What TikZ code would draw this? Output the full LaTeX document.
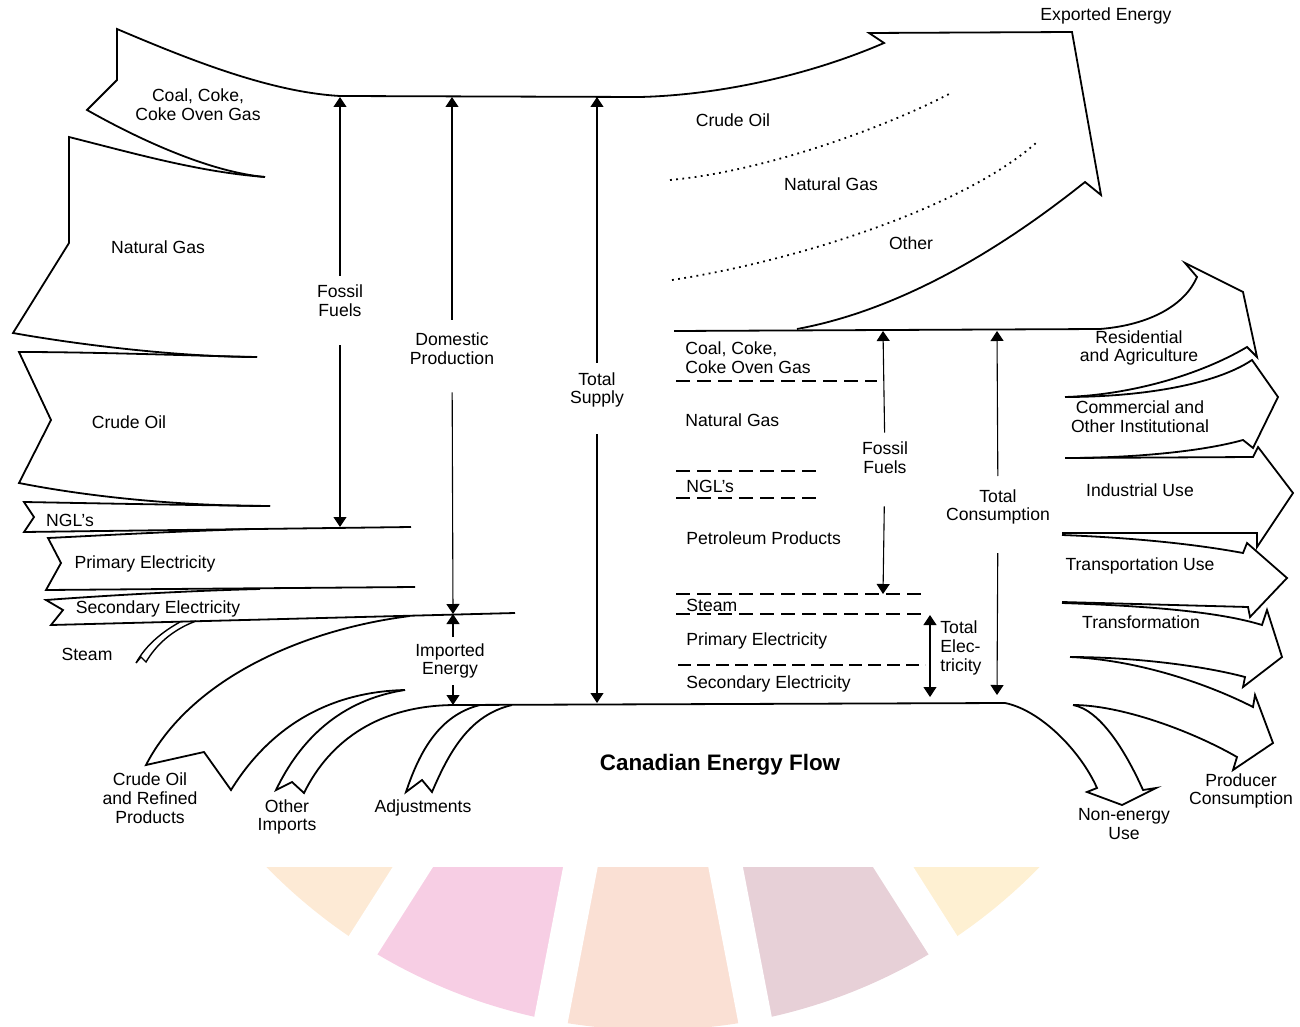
\documentclass[tikz,border=0pt]{standalone}
\usepackage{fontspec}
\setmainfont{Liberation Sans}
\usepackage{tikz}
\usetikzlibrary{arrows.meta}

\definecolor{wA}{RGB}{253,234,213}
\definecolor{wB}{RGB}{247,206,228}
\definecolor{wC}{RGB}{250,224,212}
\definecolor{wD}{RGB}{231,208,215}
\definecolor{wE}{RGB}{254,240,210}
\newcommand{\lblsize}{\fontsize{8.8}{9.4}\selectfont}

\begin{document}
\begin{tikzpicture}[x=0.5pt, y=-0.5pt,
        flow/.style={line width=0.9pt, line join=miter},
        dimline/.style={line width=0.55pt, -{Triangle[width=6.5pt,length=5pt]}},
        lbl/.style={font=\lblsize, align=center, inner sep=1pt},
        lbll/.style={font=\lblsize, align=left, inner sep=1pt, anchor=west},
        sepline/.style={line width=1.1pt, dash pattern=on 7pt off 3.5pt},
        dotline/.style={line width=0.9pt, dash pattern=on 0.9pt off 2.2pt}]

    \useasboundingbox (0,0) rectangle (1300,1027);

    % faint wheel at the bottom
    \begin{scope}
        \clip (0,867) rectangle (1300,1027);
        \foreach \a/\b/\c in {122.5/140/wA, 100.9/122.5/wB, 79.1/100.9/wC, 57.5/79.1/wD, 40/57.5/wE}
            \fill[\c] (653,490) -- plot[domain=\a:\b, samples=25] ({653+540*cos(\x)},{490+540*sin(\x)}) -- cycle;
        \foreach \a in {57.5,79.1,100.9,122.5}
            \draw[white, line width=17pt] (653,490) -- ({653+620*cos(\a)},{490+620*sin(\a)});
    \end{scope}

    % supply top edge, coal tail and exported energy
    \draw[flow] (265,177) .. controls (210,172) and (140,140) .. (87,110) -- (117,80) -- (117,29)
        .. controls (190,60) and (270,92) .. (340,96) -- (640,97)
        .. controls (720,95) and (810,75) .. (884,43) -- (869,33) -- (1072,32) -- (1101,195) -- (1085,182)
        .. controls (1000,250) and (900,310) .. (797,329);
    \draw[dotline] (670,180) .. controls (760,172) and (880,130) .. (951,93);
    \draw[dotline] (672,280) .. controls (790,262) and (960,210) .. (1036,143);

    % domestic production tails
    \draw[flow] (265,177) .. controls (200,172) and (140,155) .. (69,137) -- (69,243) -- (13,333)
        .. controls (80,345) and (180,357) .. (257,357);
    \draw[flow] (257,357) .. controls (200,356) and (100,352) .. (19,352) -- (51,420) -- (19,483)
        .. controls (90,497) and (180,506) .. (270,506);
    \draw[flow] (270,506) .. controls (180,505) and (80,503) .. (24,502) -- (34,517) -- (24,532) -- (411,527);
    \draw[flow] (250,529) .. controls (160,532) and (90,536) .. (48,538) -- (61,563) -- (46,590) -- (415,587);
    \draw[flow] (260,589) .. controls (180,591) and (100,596) .. (46,600) -- (63,610) -- (51,625) -- (515,613);
    \draw[flow, line width=0.7pt] (180,622) .. controls (162,632) and (146,645) .. (136,663) -- (141,657)
        -- (146,662) .. controls (156,645) and (172,630) .. (196,621);

    % imports
    \draw[flow] (410,616) .. controls (300,630) and (190,680) .. (146,765) -- (204,752) -- (231,790)
        .. controls (265,735) and (320,692) .. (405,690);
    \draw[flow] (405,690) .. controls (340,700) and (300,740) .. (276,790) -- (292,782) -- (304,793)
        .. controls (330,740) and (380,705) .. (456,705);
    \draw[flow] (480,705) .. controls (440,715) and (420,750) .. (406,792) -- (422,780) -- (432,792)
        .. controls (450,750) and (470,715) .. (512,705);

    % consumption side
    \draw[flow] (674,331) -- (1100,329) .. controls (1150,325) and (1185,305) .. (1197,277) -- (1185,263)
        -- (1243,292) -- (1257,357) -- (1247,347) .. controls (1200,375) and (1130,395) .. (1065,397);
    \draw[flow] (1065,397) .. controls (1140,397) and (1215,385) .. (1252,360) -- (1278,397) -- (1253,448)
        -- (1243,440) .. controls (1200,452) and (1130,458) .. (1065,458);
    \draw[flow] (1065,458) -- (1253,457) -- (1258,447) -- (1293,493) -- (1257,547) -- (1257,533) -- (1062,533);
    \draw[flow] (1062,535) .. controls (1140,538) and (1200,545) .. (1243,553) -- (1247,543) -- (1287,578)
        -- (1250,617) -- (1248,607) -- (1062,602);
    \draw[flow] (1062,603) .. controls (1150,606) and (1220,612) .. (1262,625) -- (1267,610) -- (1282,657)
        -- (1243,687) -- (1245,677) .. controls (1200,665) and (1130,657) .. (1070,657);
    \draw[flow] (1070,657) .. controls (1140,660) and (1210,685) .. (1253,707) -- (1255,695) -- (1273,743)
        -- (1233,770) -- (1237,757) .. controls (1190,730) and (1120,705) .. (1073,705);
    \draw[flow] (456,705) -- (1005,703) .. controls (1040,710) and (1080,750) .. (1097,788) -- (1087,792)
        -- (1122,805) -- (1156,788) -- (1143,790) .. controls (1125,750) and (1100,710) .. (1073,705);

    % separators of the consumption block
    \foreach \y/\xe in {381/877, 471/823, 498/823, 594/927, 614/927}
        \draw[sepline] (676,\y) -- (\xe,\y);
    \draw[line width=0.8pt, dash pattern=on 6.5pt off 3pt] (678,665) -- (925,665);

    % labels
    \node[lbl] (coalL) at (198,105) {Coal, Coke,\\Coke Oven Gas};
    \node[lbl] (gasL) at (158,247) {Natural Gas};
    \node[lbl] (oilL) at (129,422) {Crude Oil};
    \node[lbl] (nglL) at (70,520) {NGL's};
    \node[lbl] (primL) at (145,564) {Primary Electricity};
    \node[lbl] (secL) at (158,609) {Secondary Electricity};
    \node[lbl] (steamL) at (87,654) {Steam};
    \node[lbl] (oilImp) at (150,798) {Crude Oil\\and Refined\\Products};
    \node[lbl] (othImp) at (287,817) {Other\\Imports};
    \node[lbl] (adjust) at (423,808) {Adjustments};

    \node[lbl] (expOil) at (733,120) {Crude Oil};
    \node[lbl] (expGas) at (831,184) {Natural Gas};
    \node[lbl] (expOth) at (911,243) {Other};
    \node[lbl] (export) at (1106,16) {Exported Energy};

    \node[lbll] (coalR) at (683,358) {Coal, Coke,\\Coke Oven Gas};
    \node[lbll] (gasR) at (683,420) {Natural Gas};
    \node[lbll] (nglR) at (684,486) {NGL's};
    \node[lbll] (petR) at (684,538) {Petroleum Products};
    \node[lbll] (steamR) at (684,605) {Steam};
    \node[lbll] (primR) at (684,641) {Primary Electricity};
    \node[lbll] (secR) at (684,684) {Secondary Electricity};

    \node[lbl] (resid) at (1139,348) {Residential\\and Agriculture};
    \node[lbl] (comm) at (1140,417) {Commercial and\\Other Institutional};
    \node[lbl] (indus) at (1140,490) {Industrial Use};
    \node[lbl] (trans) at (1140,566) {Transportation Use};
    \node[lbl] (transf) at (1141,622) {Transformation};
    \node[lbl] (nonen) at (1124,824) {Non-energy\\Use};
    \node[lbl] (prodc) at (1241,791) {Producer\\Consumption};

    \node[font=\bfseries\fontsize{11.2}{13}\selectfont] (title) at (720,765) {Canadian Energy Flow};

    % dimension arrows
    \node[lbl] (ffL) at (340,301) {Fossil\\Fuels};
    \node[lbl] (dom) at (452,349) {Domestic\\Production};
    \node[lbl] (imp) at (450,661) {Imported\\Energy};
    \node[lbl] (sup) at (597,390) {Total\\Supply};
    \node[lbl] (ffR) at (885,458) {Fossil\\Fuels};
    \node[lbl] (con) at (998,507) {Total\\Consumption};
    \node[lbll] (elec) at (938,648) {Total\\Elec-\\tricity};

    \coordinate (ffLTop) at (340,97);
    \coordinate (ffLBot) at (340,527);
    \coordinate (domTop) at (452,97);
    \coordinate (domBot) at (453,614);
    \coordinate (impBot) at (453,705);
    \coordinate (supTop) at (597,97);
    \coordinate (supBot) at (597,703);
    \coordinate (ffRTop) at (883,331);
    \coordinate (ffRBot) at (883,594);
    \coordinate (conTop) at (997,331);
    \coordinate (conBot) at (997,695);
    \coordinate (elTop) at (930,615);
    \coordinate (elBot) at (930,697);

    \draw[dimline, shorten <=3.5pt] (ffL) -- (ffLTop);
    \draw[dimline, shorten <=13pt] (ffL) -- (ffLBot);
    \draw[dimline, shorten <=5.5pt] (dom) -- (domTop);
    \draw[dimline, shorten <=12.5pt] (dom) -- (domBot);
    \draw[dimline, shorten <=2pt] (imp.north -| domBot) -- (domBot);
    \draw[dimline, shorten <=2pt] (imp.south -| impBot) -- (impBot);
    \draw[dimline, shorten <=3.5pt] (sup) -- (supTop);
    \draw[dimline, shorten <=12pt] (sup) -- (supBot);
    \draw[dimline, shorten <=3.5pt] (ffR) -- (ffRTop);
    \draw[dimline, shorten <=15pt] (ffR) -- (ffRBot);
    \draw[dimline, shorten <=5.5pt] (con) -- (conTop);
    \draw[dimline, shorten <=13pt] (con) -- (conBot);
    \draw[dimline, {Triangle[width=6.5pt,length=5pt]}-{Triangle[width=6.5pt,length=5pt]}] (elTop) -- (elBot);
\end{tikzpicture}
\end{document}
